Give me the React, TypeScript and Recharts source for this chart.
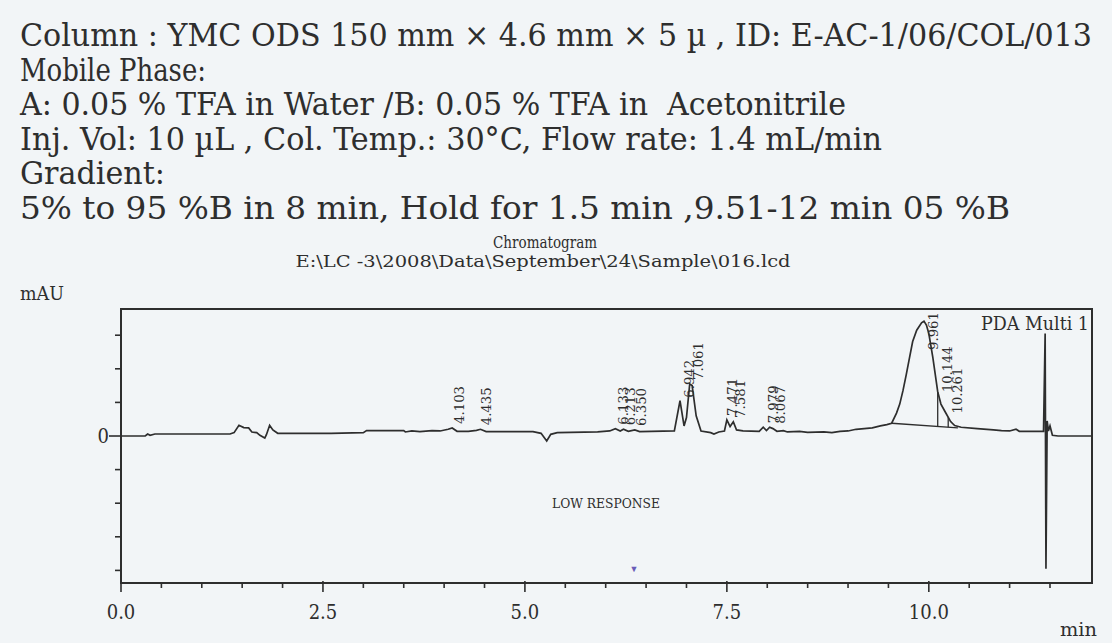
import React from "react";
import { LineChart, Line, XAxis, YAxis, ReferenceArea, ReferenceDot, ReferenceLine } from "recharts";

const INK = "#2e2e2e";
const PAPER = "#f2f5f7";
const SERIF = "'DejaVu Serif Condensed', 'DejaVu Serif', 'Liberation Serif', serif";

// PDA trace: time in min, signal in y-tick units
const retentionTime = [
  0, 0.3, 0.33, 0.36, 0.42, 1.35, 1.4, 1.46, 1.52, 1.58, 1.62, 1.68, 1.72, 1.78, 1.8, 1.84, 1.88, 1.94,
  2.1, 2.6, 3.0, 3.04, 3.5, 3.52, 3.6, 3.7, 3.85, 3.95, 4.05, 4.1, 4.16, 4.3, 4.4, 4.45, 4.52,
  5.1, 5.2, 5.27, 5.32, 5.4, 5.9, 6.05, 6.12, 6.18, 6.22, 6.28, 6.36, 6.42, 6.85, 6.92, 6.97, 7.0,
  7.04, 7.07, 7.12, 7.18, 7.3, 7.34, 7.4, 7.47, 7.5, 7.54, 7.58, 7.62, 7.7, 7.9, 7.95, 7.99, 8.03,
  8.07, 8.12, 8.2, 8.25, 8.4, 8.5, 8.7, 8.8, 8.9, 9.0, 9.1, 9.2, 9.3, 9.4, 9.48, 9.54, 9.6, 9.64,
  9.68, 9.72, 9.76, 9.8, 9.85, 9.91, 9.94, 9.97, 10.0, 10.05, 10.11, 10.15, 10.2, 10.27, 10.32,
  10.4, 10.6, 10.8, 10.9, 11.0, 11.08, 11.12, 11.42, 11.44, 11.45, 11.465, 11.48, 11.5, 11.53, 11.6, 12.02,
];
const signal = [
  0, 0, 0.06, 0.02, 0.06, 0.06, 0.1, 0.32, 0.25, 0.24, 0.12, 0.1, 0.02, -0.06, 0.04, 0.32, 0.18, 0.08,
  0.08, 0.08, 0.1, 0.16, 0.16, 0.12, 0.15, 0.13, 0.16, 0.15, 0.2, 0.24, 0.14, 0.14, 0.17, 0.2, 0.13,
  0.13, 0.08, -0.15, 0.05, 0.1, 0.12, 0.15, 0.22, 0.15, 0.2, 0.14, 0.18, 0.13, 0.15, 1.05, 0.3, 0.55,
  1.55, 1.5, 0.6, 0.15, 0.1, 0.06, 0.12, 0.15, 0.48, 0.28, 0.42, 0.18, 0.15, 0.14, 0.26, 0.16, 0.26,
  0.22, 0.14, 0.16, 0.12, 0.14, 0.11, 0.12, 0.1, 0.14, 0.15, 0.2, 0.22, 0.24, 0.3, 0.34, 0.38, 0.68, 0.95,
  1.35, 1.82, 2.32, 2.81, 3.15, 3.37, 3.42, 3.3, 3.05, 2.33, 1.32, 0.95, 0.73, 0.43, 0.31,
  0.26, 0.22, 0.18, 0.16, 0.15, 0.2, 0.14, 0.14, 3.05, -3.95, 0.45, 0.15, 0.3, 0.02, 0, 0,
];

const peakTimes = [4.103, 4.435, 6.133, 6.213, 6.35, 6.942, 7.061, 7.471, 7.581, 7.979, 8.067, 9.961, 10.144, 10.261];

// integration baseline under the main peak and its drop lines
const baselineTimes = [9.54, 10.36];
const baselineValues = [0.38, 0.24];
const dropLineTimes = [10.11, 10.24];

const timeTicks = [0, 0.5, 1, 1.5, 2, 2.5, 3, 3.5, 4, 4.5, 5, 5.5, 6, 6.5, 7, 7.5, 8, 8.5, 9, 9.5, 10, 10.5, 11, 11.5];
const majorTimeTicks = [0, 2.5, 5, 7.5, 10];
const signalTicks = [-4, -3, -2, -1, 0, 1, 2, 3];

const headerLines = [
  "Column : YMC ODS 150 mm × 4.6 mm × 5 µ , ID: E-AC-1/06/COL/013",
  "Mobile Phase:",
  "A: 0.05 % TFA in Water /B: 0.05 % TFA in  Acetonitrile",
  "Inj. Vol: 10 µL , Col. Temp.: 30°C, Flow rate: 1.4 mL/min",
  "Gradient:",
  "5% to 95 %B in 8 min, Hold for 1.5 min ,9.51-12 min 05 %B",
];
const HEADER_Y = [46, 80.5, 115, 149.5, 184, 218.5];
const HEADER_W = [1072, 186, 826, 862, 145, 990];

const PLOT_TOP = 309;
const X_MAX = 12.02;

const rows = retentionTime.map((t, i) => ({ t, v: signal[i] }));

function valueAt(t: number) {
  for (let i = 1; i < retentionTime.length; i++) {
    if (retentionTime[i] >= t) {
      const t0 = retentionTime[i - 1];
      const f = (t - t0) / (retentionTime[i] - t0);
      return signal[i - 1] + f * (signal[i] - signal[i - 1]);
    }
  }
  return signal[signal.length - 1];
}

function labelAnchor(t: number) {
  let m = Math.max(valueAt(t - 0.02), valueAt(t + 0.06));
  retentionTime.forEach((rt, i) => {
    if (rt >= t - 0.02 && rt <= t + 0.06) m = Math.max(m, signal[i]);
  });
  return m;
}

function PeakLabel({ cx, cy, text }: any) {
  const len = text.length * 7.6;
  const px = cx + 12;
  const py = Math.max(cy - 4, PLOT_TOP + 3 + len);
  return (
    <text x={px} y={py} transform={`rotate(-90 ${px} ${py})`} fontSize={12} fontFamily={SERIF} fill={INK}
      textLength={len} lengthAdjust="spacingAndGlyphs">
      {text}
    </text>
  );
}

function TimeTick({ x, y, payload }: any) {
  const major = majorTimeTicks.includes(payload.value);
  return (
    <g>
      <line x1={x} x2={x} y1={y - (major ? 2 : 0)} y2={y + (major ? 9 : 5)} stroke={INK} strokeWidth={1.6} />
      {major && (
        <text x={x} y={y + 36} textAnchor="middle" fontSize={20} fontFamily={SERIF} fill={INK}>
          {payload.value.toFixed(1)}
        </text>
      )}
    </g>
  );
}

function SignalTick({ x, y, payload }: any) {
  const zero = payload.value === 0;
  return (
    <g>
      <line x1={x - (zero ? 12 : 6)} x2={x} y1={y} y2={y} stroke={INK} strokeWidth={1.6} />
      {zero && (
        <text x={x - 12} y={y + 7} textAnchor="end" fontSize={20} fontFamily={SERIF} fill={INK}>0</text>
      )}
    </g>
  );
}

function Overlay() {
  const t = (x: number, y: number, s: number, w: number, str: string, anchor: any = "start") => (
    <text x={x} y={y} fontSize={s} fontFamily={SERIF} fill={INK} textAnchor={anchor} textLength={w}
      lengthAdjust="spacingAndGlyphs" style={{ whiteSpace: "pre" }}>
      {str}
    </text>
  );
  return (
    <svg width={1112} height={643} style={{ position: "absolute", left: 0, top: 0, pointerEvents: "none" }}>
      {headerLines.map((line, i) => (
        <React.Fragment key={i}>{t(20, HEADER_Y[i], 32, HEADER_W[i], line)}</React.Fragment>
      ))}
      {t(545, 248, 16, 104, "Chromatogram", "middle")}
      {t(543, 267, 16, 495, "E:\\LC -3\\2008\\Data\\September\\24\\Sample\\016.lcd", "middle")}
      {t(20, 300, 19, 44, "mAU")}
      {t(981, 330, 19, 108, "PDA Multi 1")}
      {t(552, 508, 13, 108, "LOW RESPONSE")}
      {t(1060, 636, 19, 37, "min")}
      <text x={634} y={572} fontSize={9} fill="#6a5cb8" textAnchor="middle">▼</text>
    </svg>
  );
}

export default function App() {
  return (
    <div style={{ position: "absolute", left: 0, top: 0, width: 1112, height: 643, background: PAPER, overflow: "hidden" }}>
      <LineChart width={1112} height={643} data={rows} margin={{ top: 309, right: 20, bottom: 20, left: 81 }}>
        <XAxis
          dataKey="t"
          type="number"
          domain={[0, X_MAX]}
          allowDataOverflow
          ticks={timeTicks}
          interval={0}
          tick={<TimeTick />}
          tickLine={false}
          tickSize={0}
          tickMargin={0}
          height={40}
          axisLine={{ stroke: INK, strokeWidth: 2 }}
        />
        <YAxis
          type="number"
          domain={[-4.375, 3.78]}
          allowDataOverflow
          ticks={signalTicks}
          interval={0}
          tick={<SignalTick />}
          tickLine={false}
          tickSize={0}
          tickMargin={0}
          width={40}
          axisLine={{ stroke: INK, strokeWidth: 2 }}
        />
        <ReferenceArea x1={0} x2={X_MAX} y1={-4.375} y2={3.78} fill="none" stroke={INK} strokeWidth={2} ifOverflow="visible" />
        <ReferenceLine
          segment={[{ x: baselineTimes[0], y: baselineValues[0] }, { x: baselineTimes[1], y: baselineValues[1] }]}
          stroke={INK}
          strokeWidth={1.3}
        />
        {dropLineTimes.map((dt) => {
          const f = (dt - baselineTimes[0]) / (baselineTimes[1] - baselineTimes[0]);
          const base = baselineValues[0] + f * (baselineValues[1] - baselineValues[0]);
          return (
            <ReferenceLine key={dt} segment={[{ x: dt, y: base }, { x: dt, y: valueAt(dt) }]} stroke={INK} strokeWidth={1.3} />
          );
        })}
        <Line type="linear" dataKey="v" stroke={INK} strokeWidth={1.7} dot={false} isAnimationActive={false} />
        {peakTimes.map((pt) => (
          <ReferenceDot
            key={pt}
            x={pt}
            y={labelAnchor(pt)}
            r={0}
            shape={(p: any) => <PeakLabel {...p} text={pt.toFixed(3)} />}
          />
        ))}
      </LineChart>
      <Overlay />
    </div>
  );
}
